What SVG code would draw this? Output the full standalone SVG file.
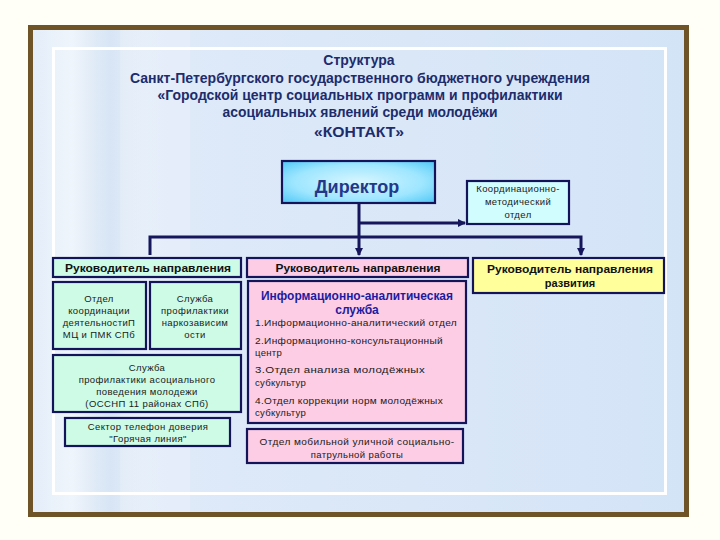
<svg xmlns="http://www.w3.org/2000/svg" width="720" height="540" viewBox="0 0 720 540">
<defs>
<linearGradient id="bg" x1="0" y1="0" x2="1" y2="0">
<stop offset="0" stop-color="#e4eef9"/>
<stop offset="0.3" stop-color="#dde9f8"/>
<stop offset="1" stop-color="#d4e4f7"/>
</linearGradient>
<linearGradient id="colshade" x1="0" y1="0" x2="1" y2="0">
<stop offset="0" stop-color="#ffffff" stop-opacity="0.0"/>
<stop offset="0.3" stop-color="#ffffff" stop-opacity="0.45"/>
<stop offset="0.6" stop-color="#c6d8ee" stop-opacity="0.35"/>
<stop offset="1" stop-color="#ffffff" stop-opacity="0"/>
</linearGradient>
<radialGradient id="dir" cx="0.5" cy="0.5" r="0.7">
<stop offset="0" stop-color="#d8f6ff"/>
<stop offset="0.6" stop-color="#9ee6ff"/>
<stop offset="1" stop-color="#4fc8f5"/>
</radialGradient>
<marker id="ah" markerWidth="8" markerHeight="8" refX="7" refY="4" orient="auto" markerUnits="userSpaceOnUse">
<path d="M0,0 L8,4 L0,8 Z" fill="#16165c"/>
</marker>
<style>
text{font-family:"Liberation Sans",Arial,sans-serif;}
.ttl{font-size:14px;font-weight:bold;fill:#1c2c6c;text-anchor:middle;}
.box{stroke:#14145a;stroke-width:2.2;}
.green{fill:#cdfbe6;}
.pink{fill:#fccde4;}
.yellow{fill:#ffff9c;}
.cyan{fill:#d2fdff;}
.hdr{font-size:11px;font-weight:bold;fill:#111;text-anchor:middle;}
.sm{font-size:9.5px;fill:#1a1a1a;text-anchor:middle;letter-spacing:0.4px;}
.sl{font-size:9.5px;fill:#1a1a1a;letter-spacing:0.3px;}
.conn{stroke:#16165c;stroke-width:3;fill:none;}
</style>
</defs>
<rect x="0" y="0" width="720" height="540" fill="#fffff8"/>
<g id="frame">
<rect x="30.5" y="27.5" width="656" height="487" fill="url(#bg)" stroke="#6e5426" stroke-width="5"/>
<rect x="33" y="30" width="130" height="482" fill="url(#colshade)"/>
<rect x="120" y="30" width="70" height="482" fill="#ffffff" opacity="0.18"/>
<rect x="53.5" y="48.5" width="612" height="445" fill="none" stroke="#ffffff" stroke-width="3"/>
</g>
<g id="title">
<text class="ttl" x="359" y="65">Структура</text>
<text class="ttl" x="360" y="83" font-size="13.5" textLength="460" lengthAdjust="spacingAndGlyphs">Санкт-Петербургского государственного бюджетного учреждения</text>
<text class="ttl" x="360" y="100" font-size="13.5" textLength="405" lengthAdjust="spacingAndGlyphs">«Городской центр социальных программ и профилактики</text>
<text class="ttl" x="360" y="117" font-size="13.5" textLength="275" lengthAdjust="spacingAndGlyphs">асоциальных явлений среди молодёжи</text>
<text class="ttl" x="359" y="137" font-size="15" textLength="90" lengthAdjust="spacingAndGlyphs">«КОНТАКТ»</text>
</g>
<g id="connectors">
<path class="conn" d="M359,203 V255" marker-end="url(#ah)"/>
<path class="conn" d="M359,223 H465" marker-end="url(#ah)"/>
<path class="conn" d="M150,255 V237 H581 V255" marker-end="url(#ah)"/>
</g>
<g id="director">
<rect class="box" x="282" y="161" width="153" height="42" fill="url(#dir)"/>
<text x="357" y="193" font-size="18" font-weight="bold" fill="#24388a" text-anchor="middle">Директор</text>
</g>
<g id="coord">
<rect class="box cyan" x="467" y="181" width="102" height="43"/>
<text class="sm" x="518" y="192" font-size="9">Координационно-</text>
<text class="sm" x="518" y="205" font-size="9">методический</text>
<text class="sm" x="518" y="218" font-size="9">отдел</text>
</g>
<g id="head-left">
<rect class="box green" x="53" y="258" width="188" height="19"/>
<text class="hdr" x="148" y="272" textLength="166" lengthAdjust="spacingAndGlyphs">Руководитель направления</text>
</g>
<g id="head-mid">
<rect class="box pink" x="247" y="258" width="221" height="19"/>
<text class="hdr" x="358" y="272" textLength="165" lengthAdjust="spacingAndGlyphs">Руководитель направления</text>
</g>
<g id="head-right">
<rect class="box yellow" x="473" y="258" width="191" height="35"/>
<text class="hdr" x="570" y="273" textLength="166" lengthAdjust="spacingAndGlyphs">Руководитель направления</text>
<text class="hdr" x="570" y="287">развития</text>
</g>
<g id="otdel-koord">
<rect class="box green" x="53" y="282" width="93" height="67"/>
<text class="sm" x="99" y="302">Отдел</text>
<text class="sm" x="99" y="314">координации</text>
<text class="sm" x="99" y="326">деятельностиП</text>
<text class="sm" x="99" y="338">МЦ и ПМК СПб</text>
</g>
<g id="sluzhba-narko">
<rect class="box green" x="150" y="282" width="91" height="67"/>
<text class="sm" x="195" y="302">Служба</text>
<text class="sm" x="195" y="314">профилактики</text>
<text class="sm" x="195" y="326">наркозависим</text>
<text class="sm" x="195" y="338">ости</text>
</g>
<g id="sluzhba-asoc">
<rect class="box green" x="53" y="355" width="188" height="57"/>
<text class="sm" x="147" y="371">Служба</text>
<text class="sm" x="147" y="383">профилактики асоциального</text>
<text class="sm" x="147" y="395">поведения молодежи</text>
<text class="sm" x="147" y="407">(ОССНП 11 районах СПб)</text>
</g>
<g id="sektor">
<rect class="box green" x="65" y="418" width="165" height="28"/>
<text class="sm" x="148" y="430">Сектор телефон доверия</text>
<text class="sm" x="148" y="442">"Горячая линия"</text>
</g>
<g id="info-sluzhba">
<rect class="box pink" x="248" y="281" width="218" height="142"/>
<text x="357" y="300" font-size="12" font-weight="bold" fill="#1c1ca0" text-anchor="middle" textLength="192" lengthAdjust="spacingAndGlyphs">Информационно-аналитическая</text>
<text x="357" y="314" font-size="12" font-weight="bold" fill="#1c1ca0" text-anchor="middle">служба</text>
<text class="sl" x="255" y="326" textLength="202" lengthAdjust="spacingAndGlyphs">1.Информационно-аналитический отдел</text>
<text class="sl" x="255" y="344" textLength="188" lengthAdjust="spacingAndGlyphs">2.Информационно-консультационный</text>
<text class="sl" x="255" y="356">центр</text>
<text class="sl" x="255" y="373" textLength="170" lengthAdjust="spacingAndGlyphs">3.Отдел анализа молодёжных</text>
<text class="sl" x="255" y="386">субкультур</text>
<text class="sl" x="255" y="404" textLength="188" lengthAdjust="spacingAndGlyphs">4.Отдел коррекции норм молодёжных</text>
<text class="sl" x="255" y="416">субкультур</text>
</g>
<g id="mobil">
<rect class="box pink" x="247" y="429" width="216" height="34"/>
<text class="sm" x="357" y="445" textLength="195" lengthAdjust="spacingAndGlyphs">Отдел мобильной уличной социально-</text>
<text class="sm" x="357" y="458">патрульной работы</text>
</g>
</svg>
